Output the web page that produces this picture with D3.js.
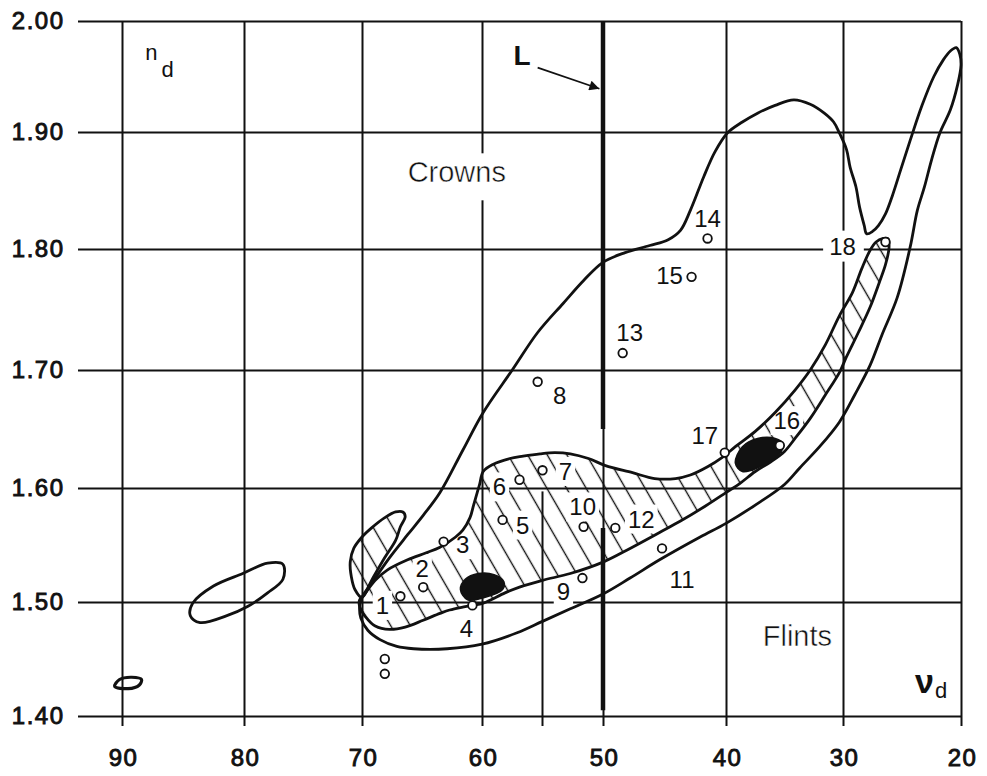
<!DOCTYPE html>
<html>
<head>
<meta charset="utf-8">
<script src="https://cdn.jsdelivr.net/npm/d3@7"></script>
<style>
  body { margin: 0; background: #fff; }
  svg { display: block; }
  text { font-family: "Liberation Sans", Arial, Helvetica, sans-serif; fill: #111; }
</style>
</head>
<body>
<div id="chart"></div>
<script>
// axis ticks
const xTicks = [90, 80, 70, 60, 50, 40, 30, 20];
const yTicks = [1.40, 1.50, 1.60, 1.70, 1.80, 1.90, 2.00];

// outline of all glass types, [nu_d, n_d]
const envelope = [
  [70.0, 1.504], [68.9, 1.521], [67.7, 1.539], [66.2, 1.559], [64.9, 1.576], [63.5, 1.596],
  [61.6, 1.632], [59.9, 1.664], [57.5, 1.700], [55.4, 1.731], [53.3, 1.755], [51.6, 1.774],
  [50.0, 1.789], [48.2, 1.797], [46.2, 1.803], [44.7, 1.808], [43.7, 1.816], [42.9, 1.833],
  [41.8, 1.862], [40.9, 1.883], [39.9, 1.899], [38.6, 1.909], [37.3, 1.917], [35.8, 1.924],
  [34.2, 1.929], [32.8, 1.925], [31.6, 1.917], [30.8, 1.909], [30.3, 1.899], [29.7, 1.885],
  [29.4, 1.870], [28.9, 1.853], [28.6, 1.836], [28.2, 1.820], [28.0, 1.813], [27.5, 1.815],
  [27.0, 1.820], [26.4, 1.830], [25.8, 1.846], [25.1, 1.868], [24.3, 1.893], [23.3, 1.924],
  [22.3, 1.950], [21.5, 1.965], [20.9, 1.973], [20.4, 1.976], [20.1, 1.970], [20.0, 1.960],
  [20.3, 1.942], [20.9, 1.920], [21.8, 1.899], [22.5, 1.876], [23.1, 1.853], [23.7, 1.833],
  [24.3, 1.802], [25.4, 1.760], [26.7, 1.729], [27.7, 1.704], [29.0, 1.679], [30.3, 1.656],
  [32.0, 1.635], [33.7, 1.617], [35.0, 1.603], [37.5, 1.585], [40.0, 1.569], [42.1, 1.557],
  [45.4, 1.537], [47.8, 1.521], [50.0, 1.507], [52.7, 1.494], [55.0, 1.483], [57.1, 1.473],
  [60.0, 1.463], [62.9, 1.459], [65.7, 1.459], [67.1, 1.461], [68.5, 1.467], [69.5, 1.475],
  [70.1, 1.486], [70.2, 1.496]
];

// hatched band of the older glasses
const band = [
  [70.2, 1.502], [70.0, 1.504], [68.9, 1.519], [67.9, 1.528], [66.2, 1.537], [64.7, 1.543],
  [63.5, 1.548], [62.2, 1.557], [61.6, 1.563], [61.0, 1.574], [60.7, 1.585], [60.4, 1.596],
  [60.2, 1.603], [59.9, 1.614], [59.1, 1.620], [57.7, 1.625], [56.6, 1.627], [55.2, 1.629],
  [54.0, 1.630], [52.7, 1.629], [51.2, 1.625], [49.8, 1.619], [47.6, 1.613], [45.8, 1.608],
  [44.1, 1.608], [42.9, 1.611], [41.5, 1.618], [40.3, 1.626], [39.2, 1.635], [37.5, 1.648],
  [35.8, 1.664], [34.1, 1.683], [32.8, 1.700], [31.5, 1.721], [30.3, 1.745], [29.2, 1.764],
  [28.4, 1.784], [27.7, 1.799], [27.2, 1.806], [26.6, 1.809], [26.2, 1.809],
  [26.1, 1.801], [26.4, 1.787], [26.9, 1.773], [27.7, 1.752], [28.7, 1.731], [29.7, 1.711],
  [30.3, 1.698], [31.5, 1.679], [32.8, 1.659], [34.1, 1.642], [35.0, 1.631], [36.2, 1.622],
  [37.5, 1.614], [38.8, 1.604], [40.0, 1.596], [41.7, 1.584], [43.7, 1.571], [45.4, 1.561],
  [47.8, 1.547], [50.0, 1.535], [52.7, 1.525], [55.0, 1.519], [56.9, 1.513], [58.1, 1.508],
  [59.9, 1.499], [61.4, 1.496], [62.7, 1.493], [63.5, 1.490], [64.9, 1.484], [66.4, 1.478],
  [67.7, 1.476], [68.9, 1.479], [69.7, 1.487], [70.2, 1.496]
];

// small hatched lobe left of the band
const lobe = [
  [70.0, 1.504], [70.6, 1.511], [70.9, 1.522], [71.0, 1.535], [70.7, 1.547], [70.0, 1.557],
  [69.2, 1.565], [68.1, 1.574], [67.2, 1.579], [66.6, 1.579], [66.4, 1.575], [66.8, 1.566],
  [67.2, 1.554], [68.1, 1.539], [69.2, 1.519]
];

// open ellipses (fluorides)
const ellipse80 = [
  [84.4, 1.488], [84.2, 1.499], [82.5, 1.514], [80.1, 1.525], [78.0, 1.534], [76.7, 1.533],
  [76.7, 1.520], [78.0, 1.508], [79.7, 1.496], [81.4, 1.488], [83.6, 1.482]
];
const ellipse90 = [
  [90.6, 1.426], [90.2, 1.432], [89.2, 1.434], [88.4, 1.432], [88.6, 1.427], [89.5, 1.424]
];

// filled areas
const blobA = [
  [61.8, 1.511], [61.4, 1.520], [60.3, 1.525], [59.0, 1.524], [58.2, 1.518], [58.3, 1.511],
  [59.8, 1.504], [61.2, 1.502]
];
const blobB = [
  [39.2, 1.621], [38.6, 1.635], [37.3, 1.642], [35.8, 1.642], [35.1, 1.637], [35.6, 1.627],
  [37.1, 1.618], [38.6, 1.614]
];

// numbered glasses
const glasses = [
  { id: '1', nu: 66.8, n: 1.505 }, { id: '2', nu: 64.9, n: 1.513 },
  { id: '3', nu: 63.2, n: 1.553 }, { id: '4', nu: 60.8, n: 1.497 },
  { id: '5', nu: 58.3, n: 1.572 }, { id: '6', nu: 56.9, n: 1.607 },
  { id: '7', nu: 55.0, n: 1.615 }, { id: '8', nu: 55.4, n: 1.690 },
  { id: '9', nu: 51.7, n: 1.521 }, { id: '10', nu: 51.6, n: 1.566 },
  { id: '11', nu: 45.2, n: 1.547 }, { id: '12', nu: 49.0, n: 1.565 },
  { id: '13', nu: 48.4, n: 1.714 }, { id: '14', nu: 41.5, n: 1.809 },
  { id: '15', nu: 42.8, n: 1.777 }, { id: '16', nu: 35.4, n: 1.636 },
  { id: '17', nu: 40.1, n: 1.630 }, { id: '18', nu: 26.4, n: 1.806 }
];
const unnamed = [[68.1, 1.450], [68.1, 1.437]];

// the L line at nu = 50 (two heavy pieces)
const lineNu = 50;
const lineL = [[2.00, 1.650], [1.565, 1.405]];
const midNu = 55, midTop = 1.597;

// label layout (pixel offsets from the marker)
const labelOffset = {
  1: [-18, 9], 2: [-1, -19], 3: [19, 3], 4: [-6, 23], 5: [20, 5], 6: [-20, 7],
  7: [23, 1], 8: [22, 14], 9: [-19, 13], 10: [-1, -20], 11: [20, 31], 12: [26, -9],
  13: [7, -21], 14: [0, -20], 15: [-22, -1], 16: [7, -25], 17: [-20, -17], 18: [-43, 4]
};

const W = 987, H = 776;
const ink = '#111';
const xPx = [122, 244, 362, 482, 603, 726, 843, 961];
const yPx = [716, 602, 488, 370, 249, 132, 21];
const gridLeft = 78, tickBottom = 726;

const x = d3.scaleLinear().domain(xTicks).range(xPx);
const y = d3.scaleLinear().domain(yTicks).range(yPx);

const svg = d3.select('#chart').append('svg')
  .attr('width', W).attr('height', H)
  .attr('viewBox', [0, 0, W, H]);

svg.append('rect').attr('width', W).attr('height', H).attr('fill', '#fff');

const defs = svg.append('defs');
defs.append('pattern')
  .attr('id', 'hatch')
  .attr('patternUnits', 'userSpaceOnUse')
  .attr('width', 17).attr('height', 17)
  .attr('patternTransform', 'rotate(-30)')
  .append('line')
    .attr('x1', 8.5).attr('y1', 0).attr('x2', 8.5).attr('y2', 17)
    .attr('stroke', ink).attr('stroke-width', 1.4);

defs.append('marker')
  .attr('id', 'arrow')
  .attr('viewBox', '0 0 10 10')
  .attr('refX', 10).attr('refY', 5)
  .attr('markerUnits', 'userSpaceOnUse')
  .attr('markerWidth', 15).attr('markerHeight', 10)
  .attr('orient', 'auto')
  .append('path').attr('d', 'M0,0L10,5L0,10z').attr('fill', ink);

// layers
const gGrid = svg.append('g');
const gFill = svg.append('g');
const gKnock = svg.append('g');
const gLine = svg.append('g');
const gMark = svg.append('g');
const gText = svg.append('g');

// GRID
const gx = gGrid.append('g')
  .attr('transform', `translate(0,${tickBottom})`)
  .call(d3.axisBottom(x).tickValues(xTicks)
    .tickSize(-(tickBottom - y(2.0)))
    .tickPadding(23)
    .tickFormat(d3.format('d')));

const gy = gGrid.append('g')
  .attr('transform', `translate(${gridLeft},0)`)
  .call(d3.axisLeft(y).tickValues(yTicks)
    .tickSize(-(x(20) - gridLeft))
    .tickPadding(15)
    .tickFormat(d3.format('.2f')));

[gx, gy].forEach(g => {
  g.select('.domain').remove();
  g.selectAll('.tick line').attr('stroke', ink).attr('stroke-width', 2);
  g.selectAll('.tick text')
    .attr('fill', ink)
    .style('font-size', '24px')
    .style('font-family', '"Liberation Sans", Arial, sans-serif')
    .style('letter-spacing', '1.5px')
    .attr('stroke', ink).attr('stroke-width', 0.9);
});
// letter-spacing adds a trailing gap, pull the labels back
gx.selectAll('.tick text').attr('dx', 1);
gy.selectAll('.tick text').attr('dx', 1.5);

// partial line at 55
gGrid.append('line')
  .attr('x1', x(midNu)).attr('x2', x(midNu))
  .attr('y1', y(midTop)).attr('y2', tickBottom)
  .attr('stroke', ink).attr('stroke-width', 2);

// heavy L line
gGrid.selectAll('.lline')
  .data(lineL)
  .join('line')
    .attr('class', 'lline')
    .attr('x1', x(lineNu)).attr('x2', x(lineNu))
    .attr('y1', d => y(d[0])).attr('y2', d => y(d[1]))
    .attr('stroke', ink).attr('stroke-width', 4.5);

// SHAPES
const closed = d3.line()
  .x(d => x(d[0]))
  .y(d => y(d[1]))
  .curve(d3.curveCatmullRomClosed.alpha(0.5));

gFill.selectAll('path')
  .data([band, lobe])
  .join('path')
    .attr('d', closed)
    .attr('fill', 'url(#hatch)');

gLine.selectAll('path')
  .data([envelope, band, lobe, ellipse80, ellipse90])
  .join('path')
    .attr('d', closed)
    .attr('fill', 'none')
    .attr('stroke', ink)
    .attr('stroke-width', (d, i) => i === 4 ? 3.2 : 2.8)
    .attr('stroke-linejoin', 'round');

gMark.selectAll('path.blob')
  .data([blobA, blobB])
  .join('path')
    .attr('class', 'blob')
    .attr('d', closed)
    .attr('fill', ink)
    .attr('stroke', ink).attr('stroke-width', 1.5);

gMark.selectAll('circle.glass')
  .data(glasses.map(d => [d.nu, d.n]).concat(unnamed))
  .join('circle')
    .attr('class', 'glass')
    .attr('cx', d => x(d[0])).attr('cy', d => y(d[1]))
    .attr('r', 4.3)
    .attr('fill', '#fff')
    .attr('stroke', ink).attr('stroke-width', 1.8);

// LABELS with white knock-outs behind them
function knockOut(node, pad) {
  const b = node.getBBox();
  gKnock.append('rect')
    .attr('x', b.x - pad[3]).attr('y', b.y - pad[0])
    .attr('width', b.width + pad[1] + pad[3])
    .attr('height', b.height + pad[0] + pad[2])
    .attr('fill', '#fff');
}

gText.selectAll('text.num')
  .data(glasses)
  .join('text')
    .attr('class', 'num')
    .attr('x', d => x(d.nu) + labelOffset[d.id][0])
    .attr('y', d => y(d.n) + labelOffset[d.id][1])
    .attr('text-anchor', 'middle')
    .attr('dy', '0.36em')
    .style('font-size', '24px')
    .text(d => d.id)
    .each(function(d) { knockOut(this, d.id === '18' ? [2, 8, 2, 6] : [1, 3, 1, 3]); });

const regions = [
  { text: 'Crowns', nu: 62.1, n: 1.857 },
  { text: 'Flints', nu: 33.9, n: 1.461 }
];
gText.selectAll('text.region')
  .data(regions)
  .join('text')
    .attr('class', 'region')
    .attr('x', d => x(d.nu)).attr('y', d => y(d.n))
    .attr('text-anchor', 'middle')
    .style('font-size', '29px')
    .attr('stroke', '#fff').attr('stroke-width', 0.5)
    .text(d => d.text)
    .each(function() { knockOut(this, [3, 6, 12, 6]); });

// L marker with arrow
gText.append('text')
  .attr('x', x(57.4)).attr('y', y(1.960))
  .style('font-size', '28px').style('font-weight', 'bold')
  .text('L');
gText.append('line')
  .attr('x1', x(55.4)).attr('y1', y(1.958))
  .attr('x2', x(50.3)).attr('y2', y(1.939))
  .attr('stroke', ink).attr('stroke-width', 1.6)
  .attr('marker-end', 'url(#arrow)');

// axis titles
const nd = gText.append('text')
  .attr('x', x(88.1)).attr('y', y(1.965))
  .style('font-size', '22px');
nd.append('tspan').text('n');
nd.append('tspan').attr('dx', 4).attr('dy', 17).text('d');

const vd = gText.append('text')
  .attr('x', x(23.9)).attr('y', y(1.420));
vd.append('tspan').style('font-size', '34px').style('font-weight', 'bold').text('ν');
vd.append('tspan').attr('dx', 1).attr('dy', 5).style('font-size', '22px').text('d');
</script>
</body>
</html>
